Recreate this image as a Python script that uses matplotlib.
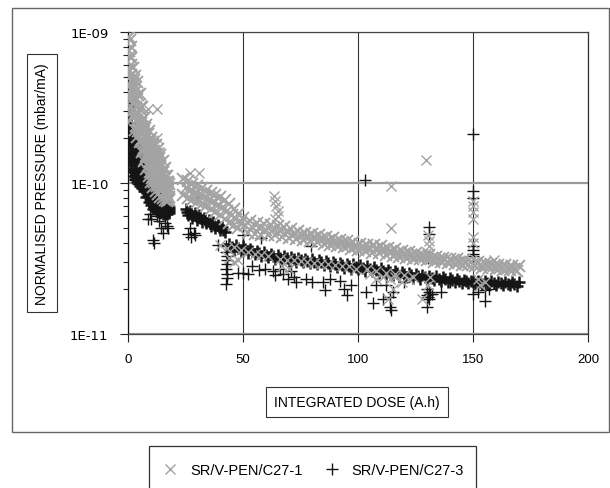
import numpy as np
import matplotlib
matplotlib.use('Agg')
import matplotlib.pyplot as plt
from matplotlib.patches import Rectangle
from matplotlib.ticker import LogLocator, NullFormatter

plt.rcParams['font.family'] = 'Liberation Sans'

# pressures are listed in units of 1E-11 mbar/mA
SCALE = 1e-11

# ---- SR/V-PEN/C27-1 (grey crosses) ----
# early conditioning, steep fall (four rows across the band)
c1_early_x = [0.5, 0.8, 1.1, 1.5, 2, 3, 4, 5, 6, 7, 8, 9, 10, 11, 12, 13, 14, 15, 16, 17, 18]
c1_early_hi = [93, 89, 79, 67, 58, 51, 47, 39, 32, 27, 24.3, 22, 20, 18.7, 17.8, 16.8, 15.4, 14, 12.6, 11.2, 9.8]
c1_early_m1 = [75, 69, 60, 52, 46, 40, 36, 31, 26, 22, 20, 18, 16.4, 15.2, 14.4, 13.7, 12.8, 11.9, 11, 10.1, 9.3]
c1_early_m2 = [56, 50, 42, 37, 34, 29, 26, 23.5, 19.7, 17, 15.1, 13.7, 12.5, 11.6, 10.8, 10.4, 9.8, 9.4, 8.9, 8.5, 8.1]
c1_early_lo = [45, 38.5, 32, 29, 27, 22.5, 20.3, 18.7, 16, 13.9, 12.3, 11.2, 10.2, 9.4, 8.8, 8.5, 8.1, 7.9, 7.7, 7.6, 7.7]
# readings taken between the ones above
c1_early2_x = [2.5, 3.5, 4.5, 5.5, 6.5, 7.5, 8.5, 9.5, 10.5, 11.5, 12.5, 13.5, 14.5, 15.5, 16.5, 17.5]
c1_early2_r1 = [48, 43, 38, 32, 26.5, 23.2, 21, 19, 17.5, 16.4, 15.6, 14.6, 13.5, 12.3, 11.2, 10.1]
c1_early2_r2 = [37, 32, 29, 25, 21, 18.3, 16.5, 15, 13.8, 12.9, 12.2, 11.6, 10.9, 10.2, 9.6, 9.0]
c1_early2_r3 = [28, 24, 22, 19.3, 16.5, 14.5, 13, 11.8, 10.8, 10.1, 9.6, 9.2, 8.8, 8.45, 8.15, 7.95]

# second period, 24 to 49 A.h
c1_sec_hi_x = [24, 26, 28, 30, 32, 34, 36, 38, 40, 42, 44, 46, 48]
c1_sec_hi = [10.7, 10.3, 9.9, 9.5, 9.25, 8.9, 8.6, 8.3, 8.05, 7.75, 7.3, 6.75, 6.25]
c1_sec_mid_x = [25, 27, 29, 31, 33, 35, 37, 39, 41, 43, 45, 47, 49]
c1_sec_mid = [9.3, 8.9, 8.55, 8.3, 8.05, 7.75, 7.45, 7.15, 6.85, 6.5, 6.1, 5.8, 5.45]
c1_sec_lo = [8.35, 8.0, 7.7, 7.5, 7.3, 7.05, 6.75, 6.4, 6.1, 5.8, 5.45, 5.25, 5.05]

# main run from 50 A.h onwards
c1_hi_x = list(range(50, 171, 3))
c1_hi = [5.9, 5.62, 5.45, 5.32, 5.25, 5.17, 5.1, 4.95, 4.8, 4.67,
         4.6, 4.52, 4.4, 4.32, 4.2, 4.12, 4.05, 3.97, 3.9, 3.87,
         3.8, 3.72, 3.65, 3.57, 3.5, 3.42, 3.35, 3.32, 3.25, 3.2,
         3.15, 3.12, 3.1, 3.02, 3.0, 2.95, 2.9, 2.87, 2.85, 2.8, 2.8]
c1_mid_x = list(range(51, 169, 3))
c1_mid = [5.3, 5.1, 5.0, 4.92, 4.87, 4.8, 4.72, 4.6, 4.5, 4.4,
          4.33, 4.25, 4.15, 4.07, 4.0, 3.9, 3.84, 3.76, 3.7, 3.66,
          3.6, 3.5, 3.46, 3.38, 3.33, 3.28, 3.22, 3.18, 3.12, 3.08,
          3.05, 3.0, 2.97, 2.9, 2.88, 2.85, 2.8, 2.78, 2.74, 2.7]
c1_lo_x = list(range(52, 170, 3))
c1_lo = [4.7, 4.62, 4.55, 4.55, 4.5, 4.42, 4.35, 4.27, 4.2, 4.12,
         4.05, 3.97, 3.9, 3.82, 3.75, 3.67, 3.6, 3.52, 3.45, 3.42,
         3.35, 3.3, 3.25, 3.2, 3.15, 3.12, 3.1, 3.02, 3.0, 2.95,
         2.9, 2.87, 2.85, 2.8, 2.75, 2.72, 2.7, 2.67, 2.65, 2.6]

# readings that fall on the C27-3 band
c1_low_x = [40, 43, 46, 49, 52, 55, 58, 61, 66, 69, 72, 75, 78, 81, 84, 87, 90, 93, 96, 99,
            104, 108, 112, 116, 120, 124]
c1_low = [3.9, 3.7, 3.75, 3.6, 3.5, 3.4, 3.35, 3.3, 3.15, 3.1, 3.1, 3.05, 3.0, 2.95, 2.9, 2.9,
          2.85, 2.8, 2.8, 2.7, 2.7, 2.6, 2.55, 2.5, 2.45, 2.4]

# isolated readings
c1_out_x = [8.7, 12.6, 12.5, 11.7, 13.5, 27, 31, 63.5, 64, 64.5, 65, 65, 64, 114.5, 114.5,
            129.7, 130.5, 131, 131, 130, 130.5, 131.5, 150, 150, 150, 150, 150, 150, 159,
            114, 115, 116, 113, 127.7, 152, 155, 153, 105, 108, 111, 119, 122, 44, 46, 48, 67, 70]
c1_out = [31, 31, 20, 18, 16, 11.6, 11.6, 8.2, 7.6, 7.0, 6.5, 6.0, 5.8, 9.6, 5.0,
          14.1, 4.5, 4.1, 3.8, 3.5, 2.1, 2.4, 7.6, 7.0, 6.4, 5.8, 4.4, 4.0, 3.1,
          2.3, 2.0, 2.4, 1.7, 1.7, 2.3, 2.2, 2.1, 2.5, 2.3, 2.4, 2.2, 2.3, 3.2, 3.0, 3.1, 2.8, 2.7]

# ---- SR/V-PEN/C27-3 (black plus signs) ----
c3_early_x = [0.5, 0.8, 1.1, 1.5, 2, 3, 4, 5, 6, 7, 8, 9, 10, 11, 12, 13, 14, 15, 16, 17, 18]
c3_early_hi = [32, 28, 25, 23, 21.5, 19.6, 18.2, 17.3, 15, 13.6, 12.1, 11.2, 10.3, 9.35, 8.6, 8.05, 7.65, 7.4, 7.1, 7.0, 6.9]
c3_early_m1 = [24.8, 21.9, 19.7, 18.4, 17.3, 16, 15, 14.2, 12.7, 11.8, 10.6, 9.8, 9.1, 8.4, 7.8, 7.45, 7.2, 7.0, 6.8, 6.7, 6.7]
c3_early_m2 = [19.3, 17.1, 15.6, 14.8, 13.9, 13.1, 12.4, 11.7, 10.8, 10.2, 9.25, 8.6, 8.0, 7.5, 7.1, 6.9, 6.7, 6.6, 6.5, 6.45, 6.5]
c3_early_lo = [15, 13.4, 12.3, 11.8, 11.2, 10.7, 10.2, 9.6, 9.2, 8.8, 8.1, 7.5, 7.1, 6.7, 6.5, 6.4, 6.3, 6.2, 6.2, 6.2, 6.3]
c3_early2_x = [2.5, 3.5, 4.5, 5.5, 6.5, 7.5, 8.5, 9.5, 10.5, 11.5, 12.5, 13.5, 14.5, 15.5, 16.5, 17.5]
c3_early2_r1 = [18.5, 17.1, 16.1, 14.7, 13.2, 12, 10.9, 10.0, 9.2, 8.5, 7.9, 7.55, 7.3, 7.1, 6.9, 6.8]
c3_early2_r2 = [15, 14.1, 13.2, 12.3, 11.3, 10.4, 9.5, 8.8, 8.2, 7.7, 7.3, 7.05, 6.9, 6.7, 6.6, 6.6]
c3_early2_r3 = [12, 11.5, 10.9, 10.3, 9.7, 9.0, 8.3, 7.8, 7.3, 6.9, 6.7, 6.55, 6.45, 6.4, 6.35, 6.4]

# second period, 25 to 42 A.h
c3_sec_hi_x = [25, 27, 29, 31, 33, 35, 37, 39, 41]
c3_sec_hi = [6.7, 6.5, 6.3, 6.1, 5.9, 5.7, 5.5, 5.3, 5.1]
c3_sec_mid_x = [25.5, 27.5, 29.5, 31.5, 33.5, 35.5, 37.5, 39.5, 41.5]
c3_sec_mid = [6.4, 6.2, 6.0, 5.82, 5.65, 5.45, 5.28, 5.1, 4.92]
c3_sec_lo_x = [26, 28, 30, 32, 34, 36, 38, 40, 42]
c3_sec_lo = [6.1, 5.9, 5.7, 5.55, 5.4, 5.2, 5.05, 4.9, 4.75]

# main run from 44 A.h onwards
c3_hi_x = list(range(44, 171, 3))
c3_hi = [3.95, 3.87, 3.8, 3.67, 3.55, 3.47, 3.4, 3.32, 3.28, 3.23,
         3.2, 3.16, 3.12, 3.08, 3.05, 3.01, 2.97, 2.93, 2.9, 2.85,
         2.81, 2.76, 2.72, 2.67, 2.63, 2.58, 2.54, 2.5, 2.47, 2.44,
         2.41, 2.38, 2.35, 2.32, 2.29, 2.26, 2.25, 2.24, 2.23, 2.22,
         2.21, 2.2, 2.2]
c3_mid_x = list(range(45, 169, 3))
c3_mid = [3.75, 3.7, 3.63, 3.52, 3.43, 3.35, 3.28, 3.2, 3.17, 3.12,
          3.09, 3.05, 3.01, 2.98, 2.94, 2.9, 2.87, 2.82, 2.79, 2.75,
          2.7, 2.66, 2.61, 2.57, 2.54, 2.49, 2.45, 2.41, 2.38, 2.36,
          2.33, 2.3, 2.28, 2.25, 2.23, 2.21, 2.2, 2.18, 2.17, 2.16,
          2.15, 2.15]
c3_lo_x = list(range(46, 170, 3))
c3_lo = [3.6, 3.53, 3.45, 3.38, 3.3, 3.22, 3.15, 3.09, 3.05, 3.01,
         2.98, 2.94, 2.9, 2.86, 2.82, 2.79, 2.75, 2.71, 2.68, 2.63,
         2.6, 2.55, 2.51, 2.47, 2.43, 2.39, 2.36, 2.33, 2.3, 2.27,
         2.24, 2.21, 2.2, 2.18, 2.17, 2.15, 2.14, 2.13, 2.12, 2.11,
         2.1, 2.09]

# isolated readings
c3_out_x = [3, 4.5, 6, 8, 8.6, 9.5, 10, 10.8, 11.3, 12.8, 13.5, 14.5, 15.3, 16, 17, 17.5,
            26, 27, 27.5, 28.5, 29, 30, 39, 42.5, 42.5, 43, 43, 43, 42.8, 43.2, 43, 42.5,
            48, 50, 50, 52, 54, 57, 58, 59.4, 63, 63.8, 66, 67.4, 69.5, 71, 72, 73.2,
            77.5, 79.7, 80, 84.7, 85.5, 88, 92, 94, 95, 97,
            103, 103.5, 106.4, 108, 110.8, 112, 113.7, 114.4, 114, 115, 120,
            130, 131, 131, 130, 130.5, 131.5, 132, 130, 131, 136, 131, 130.5, 140,
            150, 150, 150, 150, 150, 150, 150, 150, 152, 155, 155, 157]
c3_out = [10.5, 9.8, 10.2, 9.0, 5.8, 6.2, 5.8, 4.2, 4.0, 6.0, 5.6, 5.0, 4.7, 5.4, 5.2, 5.0,
          4.6, 5.0, 4.4, 4.7, 4.5, 8.1, 3.9, 3.8, 3.5, 3.3, 3.1, 2.9, 2.7, 2.5, 2.35, 2.15,
          2.55, 4.5, 2.55, 2.5, 2.8, 2.65, 4.35, 2.7, 2.6, 2.45, 2.7, 2.5, 2.3, 2.6, 2.4, 2.2,
          2.3, 3.85, 2.2, 2.2, 1.95, 2.3, 2.25, 2.0, 1.8, 2.1,
          10.5, 1.9, 1.6, 2.1, 1.7, 2.1, 1.5, 1.45, 1.75, 1.9, 2.2,
          2.0, 1.9, 5.1, 1.8, 1.75, 1.85, 1.85, 1.5, 1.7, 1.9, 4.6, 3.2, 2.2,
          21, 8.9, 8.0, 3.8, 3.6, 3.4, 3.3, 1.85, 1.9, 1.65, 1.95, 2.0]

x_ticks = [0, 50, 100, 150, 200]
y_ticks = [1e-11, 1e-10, 1e-9]
y_tick_labels = ['1E-11', '1E-10', '1E-09']

# densely packed band readings of each series
c1_band_x = np.concatenate([c1_early_x] * 4 + [c1_early2_x] * 3 +
                           [c1_sec_hi_x, c1_sec_mid_x, c1_sec_hi_x,
                            c1_hi_x, c1_mid_x, c1_lo_x])
c1_band_y = np.concatenate([c1_early_hi, c1_early_m1, c1_early_m2, c1_early_lo,
                            c1_early2_r1, c1_early2_r2, c1_early2_r3,
                            c1_sec_hi, c1_sec_mid, c1_sec_lo,
                            c1_hi, c1_mid, c1_lo]) * SCALE
c1_pts_x = np.concatenate([c1_low_x, c1_out_x])
c1_pts_y = np.concatenate([c1_low, c1_out]) * SCALE

c3_band_x = np.concatenate([c3_early_x] * 4 + [c3_early2_x] * 3 +
                           [c3_sec_hi_x, c3_sec_mid_x, c3_sec_lo_x,
                            c3_hi_x, c3_mid_x, c3_lo_x])
c3_band_y = np.concatenate([c3_early_hi, c3_early_m1, c3_early_m2, c3_early_lo,
                            c3_early2_r1, c3_early2_r2, c3_early2_r3,
                            c3_sec_hi, c3_sec_mid, c3_sec_lo,
                            c3_hi, c3_mid, c3_lo]) * SCALE
c3_pts_x = np.array(c3_out_x)
c3_pts_y = np.array(c3_out) * SCALE

GREY = '#a3a3a3'
BLACK = '#151515'

W, H = 610, 489


def fx(px):
    return px / W


def fy(py):
    return 1 - py / H


fig = plt.figure(figsize=(W / 100, H / 100), dpi=100)
ax = fig.add_axes([fx(128), fy(335), (588 - 128) / W, (335 - 33) / H])

# overlapping markers in the bands print as a near-solid strip
ax.plot(c3_band_x, c3_band_y, ls='none', marker='+', ms=9, mew=1.8, color=BLACK, zorder=3)
l3, = ax.plot(c3_pts_x, c3_pts_y, ls='none', marker='+', ms=8, mew=1.0,
              color=BLACK, label='SR/V-PEN/C27-3', zorder=3)
ax.plot(c1_band_x, c1_band_y, ls='none', marker='x', ms=8, mew=1.4, color=GREY, zorder=4)
l1, = ax.plot(c1_pts_x, c1_pts_y, ls='none', marker='x', ms=7, mew=1.0,
              color=GREY, label='SR/V-PEN/C27-1', zorder=4)

ax.set_yscale('log')
ax.set_ylim(1e-11, 1e-9)
ax.set_xlim(0, 200)
ax.set_xticks(x_ticks)
ax.set_yticks(y_ticks)
ax.set_yticklabels(y_tick_labels, fontfamily='DejaVu Sans')
ax.yaxis.set_minor_locator(LogLocator(base=10, subs=np.arange(2, 10)))
ax.yaxis.set_minor_formatter(NullFormatter())
ax.tick_params(axis='both', which='major', direction='out', length=6, width=0.8,
               labelsize=9.5, pad=8, color='#222222')
ax.tick_params(axis='y', which='minor', direction='out', length=3.5, width=0.8, color='#222222')

ax.grid(axis='x', which='major', color='#333333', lw=0.8)
ax.grid(axis='y', which='major', color='#999999', lw=1.6)
ax.spines['left'].set_color('#111111')
ax.spines['right'].set_color('#333333')
ax.spines['top'].set_color('#444444')
ax.spines['bottom'].set_color('#444444')
for s in ax.spines.values():
    s.set_linewidth(0.9)

box = dict(boxstyle='square,pad=0.6', fc='white', ec='#333333', lw=0.8)
ax.set_xlabel('INTEGRATED DOSE (A.h)', fontsize=10, va='center', bbox=box)
ax.xaxis.set_label_coords((357 - 128) / 460, (335 - 403) / 302)
ax.set_ylabel('NORMALISED PRESSURE (mbar/mA)', fontsize=10, va='center', ha='center', bbox=box)
ax.yaxis.set_label_coords((42 - 128) / 460, 0.5)

# outer chart frame and legend frame
fig.add_artist(Rectangle((fx(12), fy(433)), fx(609) - fx(12), fy(9) - fy(433),
                         transform=fig.transFigure, fill=False, ec='#666666', lw=1.0))
fig.add_artist(Rectangle((fx(149), -0.1), fx(476) - fx(149), fy(447) + 0.1,
                         transform=fig.transFigure, fill=False, ec='#333333', lw=0.9))

fig.legend([l1, l3], [l1.get_label(), l3.get_label()], loc='center',
           bbox_to_anchor=(fx(312), fy(471)), ncol=2, frameon=False, fontsize=10.5,
           handlelength=1.4, handletextpad=0.65, columnspacing=1.3, borderpad=0,
           numpoints=1)

fig.savefig('out.png', dpi=100)
